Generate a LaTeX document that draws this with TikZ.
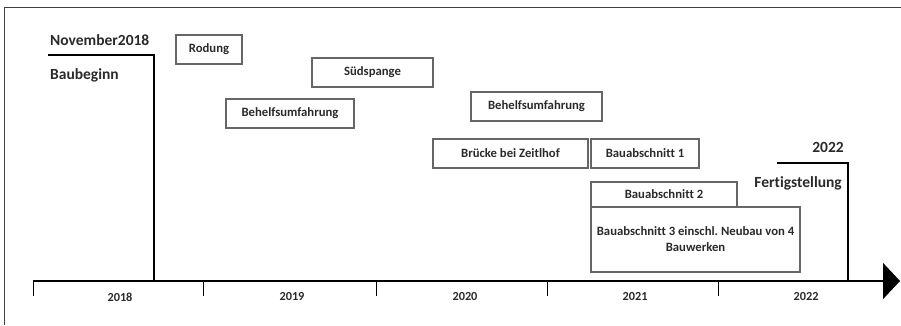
\documentclass[tikz,border=0pt]{standalone}
\usepackage{fontspec}
\setmainfont{Carlito}[Ligatures=NoCommon]
\usepackage{tikz}
\usetikzlibrary{arrows.meta}
\definecolor{boxgray}{HTML}{666666}
\definecolor{textgray}{HTML}{2A2A2A}

\begin{document}
\begin{tikzpicture}[x=1pt,y=-1pt,
  phase/.style={draw=boxgray, line width=1.3pt, inner sep=0pt, align=center,
    font=\fontsize{12.7}{16}\selectfont\bfseries, text=textgray},
  milestone/.style={inner sep=0pt, font=\fontsize{15.5}{18}\selectfont\bfseries, text=textgray},
  yearlabel/.style={inner sep=0pt, font=\fontsize{12.3}{14}\selectfont\bfseries, text=textgray}]
\useasboundingbox (0,0) rectangle (901,325);
%draw frame
\draw[line width=1pt, black!75] (4,325) -- (4,7) -- (901,7);

%draw horizontal line
\coordinate (axbeg) at (33,281);
\coordinate (axend) at (900,281);
\draw[line width=1.3pt, -{Triangle[length=17pt,width=36pt]}] (axbeg) -- (axend);
%draw vertical lines
\foreach \x in {33,203,376,547,718}{
   \draw[line width=1pt] (\x,281) -- (\x,296);
}
%draw year labels
\foreach \x/\yr in {120/2018,292/2019,465/2020,635/2021,806/2022}{
   \node[yearlabel, name=y\yr] at (\x,297) {\yr};
}

%draw milestones
\node[milestone, anchor=west, name=nov] at (50,40) {November2018};
\node[milestone, anchor=west, name=bbeg] at (50,75) {Baubeginn};
\coordinate (bbleft) at (48,55);
\coordinate (bbcorner) at (154,55);
\draw[line width=1.3pt] (bbleft) -- (bbcorner) -- (bbcorner |- axbeg);

\node[milestone, anchor=east, name=fyear] at (844,147) {2022};
\node[milestone, anchor=east, name=fert] at (842,183) {Fertigstellung};
\coordinate (fleft) at (777,163);
\coordinate (fcorner) at (848,163);
\draw[line width=1.3pt] (fleft) -- (fcorner) -- (fcorner |- axbeg);

%draw phases
\node[phase, minimum width=66, minimum height=29, name=rodung] at (209,49.5) {Rodung};
\node[phase, minimum width=121, minimum height=29, name=sued] at (372.5,72.5) {Südspange};
\node[phase, minimum width=128, minimum height=29, name=umf1] at (290,113.5) {Behelfsumfahrung};
\node[phase, minimum width=131, minimum height=29, name=umf2] at (536.5,106.5) {Behelfsumfahrung};
\node[phase, minimum width=155, minimum height=29, name=bruecke] at (510.5,153.5) {Brücke bei Zeitlhof};
\node[phase, minimum width=108, minimum height=29, name=ba1] at (645,153.5) {Bauabschnitt 1};
\node[phase, minimum width=146, minimum height=25, name=ba2] at (664,194.5) {Bauabschnitt 2};
\node[phase, minimum width=209, minimum height=65, name=ba3] at (695.5,239.5) {Bauabschnitt 3 einschl.\ Neubau von 4\\Bauwerken};
\end{tikzpicture}
\end{document}
